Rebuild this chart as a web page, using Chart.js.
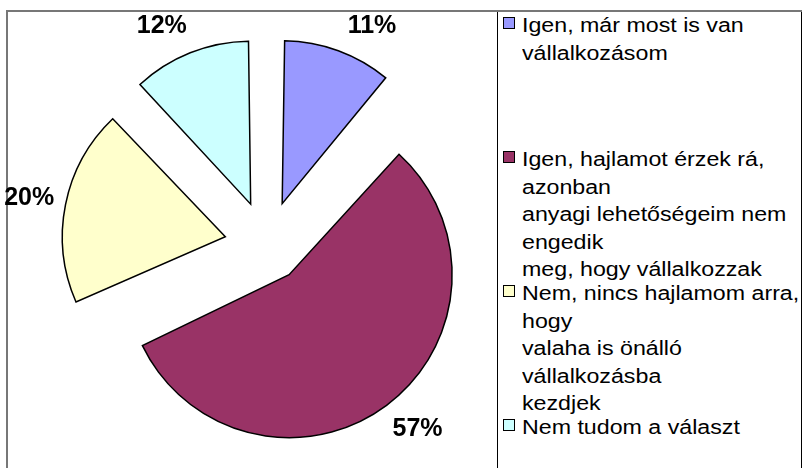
<!DOCTYPE html>
<html>
<head>
<meta charset="utf-8">
<script src="https://cdn.jsdelivr.net/npm/chart.js@4.4.0/dist/chart.umd.min.js"></script>
<style>
  html, body { margin: 0; padding: 0; background: #fff; overflow: hidden; }
  #wrap { position: relative; width: 802px; height: 468px; overflow: hidden; font-family: "Liberation Sans", Arial, sans-serif; }
  #frame { position: absolute; left: 6px; top: 10px; width: 820px; height: 480px; border-left: 2px solid #777; border-top: 2px solid #777; }
  #pie { position: absolute; left: 0; top: 0; }
  #legend-box { position: absolute; left: 497px; top: 12px; width: 303px; height: 470px; border-left: 1px solid #000; border-right: 1px solid #000; }
  .entry { position: absolute; left: 0; width: 300px; }
  .swatch { position: absolute; left: 5px; top: 5px; width: 10px; height: 10px; border: 1px solid #000; }
  .lines { position: absolute; left: 24px; top: 0; font-size: 20px; line-height: 27.6px; white-space: nowrap; color: #000; transform: scaleX(1.16); transform-origin: 0 0; }
</style>
</head>
<body>
<div id="wrap">
  <div id="frame"></div>
  <canvas id="pie" width="497" height="468"></canvas>
  <div id="legend-box"></div>
</div>
<script>
// Kategóriák (a jelmagyarázat sorai)
const categories = [
    ['Igen, már most is van', 'vállalkozásom'],
    ['Igen, hajlamot érzek rá,', 'azonban', 'anyagi lehetőségeim nem', 'engedik', 'meg, hogy vállalkozzak'],
    ['Nem, nincs hajlamom arra,', 'hogy', 'valaha is önálló', 'vállalkozásba', 'kezdjek'],
    ['Nem tudom a választ']
];

// Arányok (%)
const shares = [11.2, 57.2, 19.5, 12.1];

// Színek
const sliceColors = ['#9999FF', '#993366', '#FFFFCC', '#CCFFFF'];

const PIE_RADIUS = 163;
const LABEL_GAP = 37;

// --- jelmagyarázat ---
const legendBox = document.getElementById('legend-box');
categories.forEach((lines, i) => {
    const entry = document.createElement('div');
    entry.className = 'entry';
    entry.style.top = (i * 134) + 'px';
    entry.innerHTML = `
        <div class="swatch" style="background:${sliceColors[i]}"></div>
        <div class="lines">${lines.join('<br>')}</div>
    `;
    legendBox.appendChild(entry);
});

// keep the exploded slices at the same drawn radius
const keepRadius = {
    id: 'keepRadius',
    afterDatasetsUpdate(chart) {
        const meta = chart.getDatasetMeta(0);
        meta.data.forEach(arc => {
            const shift = (arc.options.offset || 0) / 4;
            const fix = 1 - Math.sin(Math.min(Math.PI, arc.circumference));
            arc.outerRadius = PIE_RADIUS - shift * fix;
        });
    }
};

// percentage labels outside the slices
const pctLabels = {
    id: 'pctLabels',
    afterDatasetsDraw(chart) {
        const ctx = chart.ctx;
        const meta = chart.getDatasetMeta(0);
        const minY = 25, maxY = 428;
        ctx.save();
        ctx.font = 'bold 25px "Liberation Sans", Arial, sans-serif';
        ctx.fillStyle = '#000';
        ctx.textAlign = 'center';
        ctx.textBaseline = 'middle';
        meta.data.forEach((arc, i) => {
            const mid = (arc.startAngle + arc.endAngle) / 2;
            const shift = (arc.options.offset || 0) / 4;
            const ax = arc.x + Math.cos(mid) * shift;
            const ay = arc.y + Math.sin(mid) * shift;
            const r = PIE_RADIUS + LABEL_GAP;
            let x = ax + Math.cos(mid) * r;
            let y = ay + Math.sin(mid) * r;
            if (y < minY || y > maxY) {
                y = Math.min(maxY, Math.max(minY, y));
                const dy = y - ay;
                x = ax + Math.sign(Math.cos(mid)) * Math.sqrt(Math.max(0, r * r - dy * dy));
            }
            ctx.fillText(Math.round(shares[i]) + '%', x, y + 1);
        });
        ctx.restore();
    }
};

new Chart(document.getElementById('pie').getContext('2d'), {
    type: 'pie',
    data: {
        labels: categories.map(l => l.join(' ')),
        datasets: [{
            data: shares,
            backgroundColor: sliceColors,
            borderColor: '#000',
            borderWidth: 1.5,
            borderJoinStyle: 'miter',
            offset: [176, 148, 170, 176]
        }]
    },
    options: {
        responsive: false,
        animation: false,
        events: [],
        radius: PIE_RADIUS,
        layout: { padding: { left: 37, top: 22, right: 0, bottom: 0 } },
        plugins: {
            legend: { display: false },
            tooltip: { enabled: false }
        }
    },
    plugins: [keepRadius, pctLabels]
});
</script>
</body>
</html>
